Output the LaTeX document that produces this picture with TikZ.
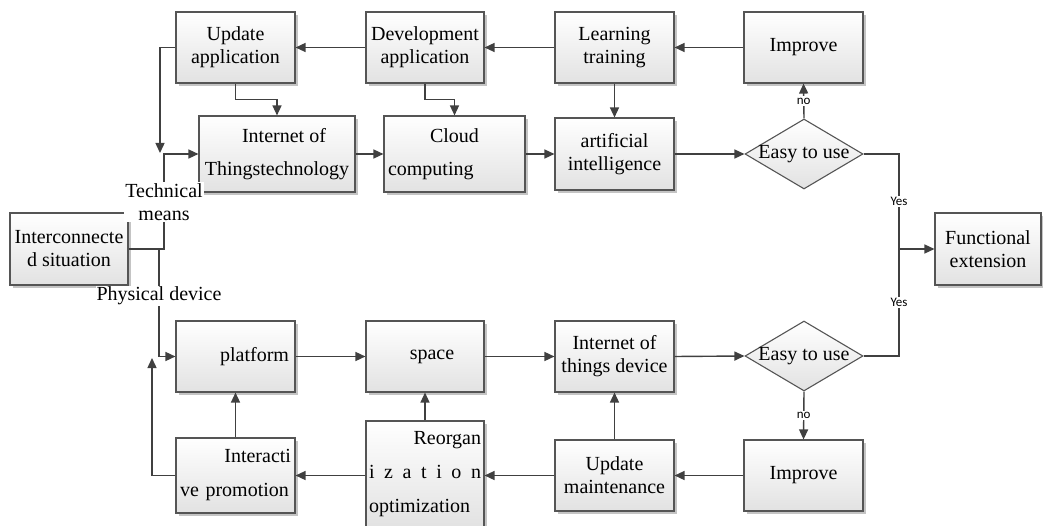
\documentclass[tikz,border=0pt]{standalone}
\usepackage{fontspec}
\setmainfont{Liberation Serif}
\newfontfamily\yesfont{Carlito}
\usetikzlibrary{shapes.geometric,arrows.meta,calc,shadows}
\definecolor{boxline}{HTML}{555555}
\definecolor{arrowc}{HTML}{404040}
\definecolor{boxgray}{HTML}{E2E2E2}
\definecolor{shadowgray}{HTML}{C4C4C4}
\begin{document}
\begin{tikzpicture}[x=1pt,y=-1pt,
  box/.style={rectangle, draw=boxline, line width=1.1pt, top color=white, bottom color=boxgray,
    inner sep=0pt, align=center, font=\fontsize{20}{23}\selectfont,
    minimum width=119pt, minimum height=71pt,
    drop shadow={shadow xshift=3pt,shadow yshift=-3pt,fill=shadowgray,opacity=1}},
  dia/.style={diamond, draw=boxline, line width=1.1pt, top color=white, bottom color=boxgray,
    inner sep=0pt, minimum width=118pt, minimum height=70pt},
  diatext/.style={font=\fontsize{20}{23}\selectfont, inner sep=0pt},
  arr/.style={draw=arrowc, line width=1.4pt, -{Triangle[length=10pt,width=9pt]}},
  ln/.style={draw=arrowc, line width=1.4pt},
  lab/.style={fill=white, inner sep=1pt, font=\fontsize{20}{23}\selectfont, align=center},
  small/.style={fill=white, inner sep=1.5pt, font=\yesfont\fontsize{13}{15}\selectfont},
]
\useasboundingbox (0,0) rectangle (1043,526);

% top row
\node[box] (ua) at (235.5,47.5) {Update\\application};
\node[box, minimum width=118pt] (da) at (425,47.5) {Development\\application};
\node[box] (lt) at (614.5,47.5) {Learning\\training};
\node[box] (imp1) at (803.5,47.5) {Improve};

% second row
\node[box, minimum width=156pt, minimum height=76pt] (iot) at (277,154) {\hspace*{14pt}Internet of\\[10pt]Thingstechnology};
\node[box, minimum width=141pt, minimum height=76pt, text width=133pt, align=left] (cc) at (454.5,154) {\makebox[133pt]{Cloud}\\[10pt]computing};
\node[box, minimum height=72pt] (ai) at (614.5,154) {artificial\\intelligence};
\node[dia] (d1) at (804,154) {};
\node[diatext] (d1t) at (d1) {Easy to use};

% middle
\node[box, minimum width=118pt, minimum height=72pt] (inter) at (69,249) {Interconnecte\\d situation};
\node[box, minimum width=106pt, minimum height=72pt] (func) at (988,249) {Functional\\extension};

% third row
\node[box, text width=107pt, align=right] (plat) at (235.5,356.5) {platform};
\node[box, minimum width=118pt] (space) at (425,356.5) {\hspace*{14pt}space};
\node[box] (iotd) at (614.5,356.5) {Internet of\\things device};
\node[dia] (d2) at (804,356) {};
\node[diatext] (d2t) at (d2) {Easy to use};

% bottom row
\node[box, minimum height=75pt, text width=111pt, align=left] (ip) at (235.5,475.5) {\makebox[111pt][r]{Interacti}\\[11pt]ve promotion};
\node[box, minimum width=118pt, minimum height=107pt, text width=112pt, align=left] (reorg) at (425,474.5) {\makebox[112pt][r]{Reorgan}\\[11pt]\makebox[112pt]{i\hfill z\hfill a\hfill t\hfill i\hfill o\hfill n}\\[11pt]optimization};
\node[box] (um) at (614.5,475.5) {Update\\maintenance};
\node[box] (imp2) at (803.5,475.5) {Improve};

% coordinates
\coordinate (jn) at (899,249);
\coordinate (c1) at (160,153);
\coordinate (tx) at (164,154);
\coordinate (br) at (159,249);
\coordinate (c2) at (152,358);

% top connectors
\draw[arr] (imp1.west) -- (lt.east);
\draw[arr] (lt.west) -- (da.east);
\draw[arr] (da.west) -- (ua.east);
\draw[arr] (ua.west) -| (c1);
\draw[arr] (ua.south) |- ($(iot.north)+(0,-16)$) -- (iot.north);
\draw[arr] (da.south) |- ($(cc.north)+(0,-16)$) -- (cc.north);
\draw[arr] (lt.south) -- (ai.north);
\draw[arr] (iot.east) -- (cc.west);
\draw[arr] (cc.east) -- (ai.west);
\draw[arr] (ai.east) -- (d1.west);
\draw[arr] (d1.north) -- node[small] (no1) {no} (imp1.south);

% right merge
\draw[ln] (d1.east) -| node[small, pos=0.75] (yes1) {Yes} (jn);
\draw[ln] (d2.east) -| node[small, pos=0.75] (yes2) {Yes} (jn);
\draw[arr] (jn) -- (func.west);

% left branch
\draw[arr] (inter.east) -| (tx) -- (iot.west);
\draw[arr] (br) |- (plat.west);

% bottom connectors
\draw[arr] (plat.east) -- (space.west);
\draw[arr] (space.east) -- (iotd.west);
\draw[arr] (iotd.east) -- (d2.west);
\draw[arr] (d2.south) -- node[small] (no2) {no} (imp2.north);
\draw[arr] (imp2.west) -- (um.east);
\draw[arr] (um.west) -- (um.west -| reorg.east);
\draw[arr] (reorg.west |- ip.east) -- (ip.east);
\draw[arr] (um.north) -- (iotd.south);
\draw[arr] (reorg.north) -- (space.south);
\draw[arr] (ip.north) -- (plat.south);
\draw[arr] (ip.west) -| (c2);

% labels on lines
\node[lab] (tm) at (164,202) {Technical\\means};
\node[lab] (pd) at (159,296) {Physical device};
\end{tikzpicture}
\end{document}
